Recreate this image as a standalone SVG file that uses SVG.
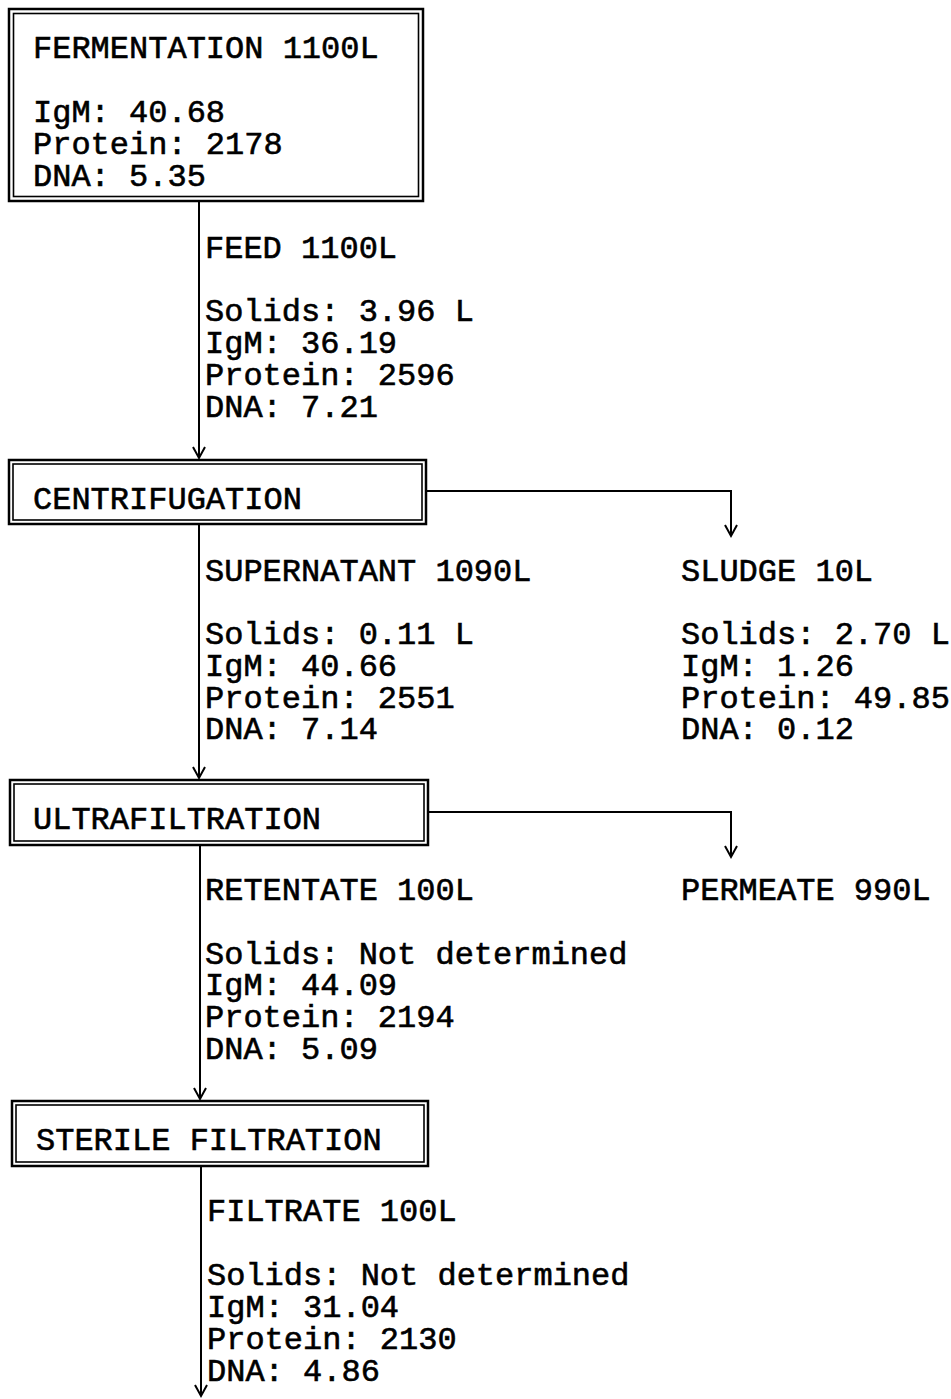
<svg xmlns="http://www.w3.org/2000/svg" width="951" height="1399" viewBox="0 0 951 1399">
<style>
  text { font-family: "Liberation Mono", "Courier New", monospace; font-size: 32px; font-weight: normal; fill: #000; stroke: #000; stroke-width: 0.6; }
  .outer { fill: none; stroke: #000; stroke-width: 2.5; }
  .inner { fill: none; stroke: #000; stroke-width: 1.6; }
  .conn { fill: none; stroke: #000; stroke-width: 2; }
</style>
<defs>
  <marker id="arr" markerWidth="16" markerHeight="16" refX="12" refY="7" orient="auto" markerUnits="userSpaceOnUse">
    <path d="M1,1 L12,7 L1,13" fill="none" stroke="#000" stroke-width="2"/>
  </marker>
</defs>
<rect width="951" height="1399" fill="#fff"/>

<g id="connectors">
  <line class="conn" x1="199" y1="201" x2="199" y2="458" marker-end="url(#arr)"/>
  <line class="conn" x1="199" y1="524" x2="199" y2="778" marker-end="url(#arr)"/>
  <polyline class="conn" points="426,491 731,491 731,536" marker-end="url(#arr)"/>
  <line class="conn" x1="200" y1="845" x2="200" y2="1099" marker-end="url(#arr)"/>
  <polyline class="conn" points="428,812 731,812 731,857" marker-end="url(#arr)"/>
  <line class="conn" x1="201" y1="1166" x2="201" y2="1396" marker-end="url(#arr)"/>
</g>

<g id="fermentation">
  <rect class="outer" x="9" y="9" width="414" height="192"/>
  <rect class="inner" x="13.5" y="13.5" width="405" height="183"/>
  <text x="33" y="58">FERMENTATION 1100L</text>
  <text x="33" y="122">IgM: 40.68</text>
  <text x="33" y="154">Protein: 2178</text>
  <text x="33" y="186">DNA: 5.35</text>
</g>

<g id="feed">
  <text x="205" y="258">FEED 1100L</text>
  <text x="205" y="321">Solids: 3.96 L</text>
  <text x="205" y="353">IgM: 36.19</text>
  <text x="205" y="385">Protein: 2596</text>
  <text x="205" y="417">DNA: 7.21</text>
</g>

<g id="centrifugation">
  <rect class="outer" x="9" y="460" width="417" height="64"/>
  <rect class="inner" x="13" y="464" width="409" height="56"/>
  <text x="33" y="509">CENTRIFUGATION</text>
</g>

<g id="supernatant">
  <text x="205" y="581">SUPERNATANT 1090L</text>
  <text x="205" y="644">Solids: 0.11 L</text>
  <text x="205" y="676">IgM: 40.66</text>
  <text x="205" y="708">Protein: 2551</text>
  <text x="205" y="739">DNA: 7.14</text>
</g>

<g id="sludge">
  <text x="681" y="581">SLUDGE 10L</text>
  <text x="681" y="644">Solids: 2.70 L</text>
  <text x="681" y="676">IgM: 1.26</text>
  <text x="681" y="708">Protein: 49.85</text>
  <text x="681" y="739">DNA: 0.12</text>
</g>

<g id="ultrafiltration">
  <rect class="outer" x="10" y="780" width="418" height="65"/>
  <rect class="inner" x="14" y="784" width="410" height="57"/>
  <text x="33" y="829">ULTRAFILTRATION</text>
</g>

<g id="retentate">
  <text x="205" y="900">RETENTATE 100L</text>
  <text x="205" y="964">Solids: Not determined</text>
  <text x="205" y="995">IgM: 44.09</text>
  <text x="205" y="1027">Protein: 2194</text>
  <text x="205" y="1059">DNA: 5.09</text>
</g>

<g id="permeate">
  <text x="681" y="900">PERMEATE 990L</text>
</g>

<g id="sterile-filtration">
  <rect class="outer" x="12" y="1101" width="416" height="65"/>
  <rect class="inner" x="16" y="1105" width="408" height="57"/>
  <text x="36" y="1150">STERILE FILTRATION</text>
</g>

<g id="filtrate">
  <text x="207" y="1221">FILTRATE 100L</text>
  <text x="207" y="1285">Solids: Not determined</text>
  <text x="207" y="1317">IgM: 31.04</text>
  <text x="207" y="1349">Protein: 2130</text>
  <text x="207" y="1381">DNA: 4.86</text>
</g>
</svg>
